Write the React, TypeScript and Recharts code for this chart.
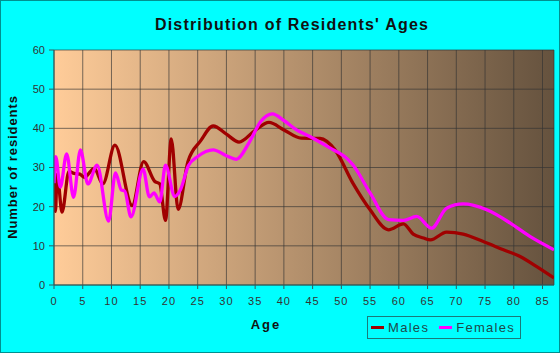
import React from "react";
import { LineChart, Line, XAxis, YAxis, CartesianGrid } from "recharts";

const chartTitle = "Distribution of Residents' Ages";
const xLabel = "Age";
const yLabel = "Number of residents";
const seriesNames = ["Males", "Females"];

const maleAges = [0, 0.25, 0.55, 1.4, 2.6, 3.5, 4.5, 5.3, 7, 8.5, 10.6, 13.6, 15.6, 17.5, 18.4, 19.4, 20.4, 21.6, 23.3, 25.5, 27.7, 30, 32.2, 35, 37.4, 40, 43, 46.3, 48.9, 52, 55, 58.2, 60.8, 62.5, 64.3, 65.5, 68.3, 71.2, 74.7, 78.2, 81.1, 84, 87];
const maleValues = [28.5, 18.8, 28.3, 18.6, 29, 28.5, 28.3, 27.5, 29.8, 25.8, 35.7, 20.3, 31.5, 26.5, 25.8, 16.5, 37.3, 19.3, 31.5, 36.8, 40.6, 38.5, 36.5, 39.5, 41.5, 39.6, 37.5, 37.4, 34.5, 26, 19.2, 14.1, 15.6, 13, 12, 11.5, 13.5, 13, 11.1, 9, 7.3, 4.7, 1.8];

const femaleAges = [0, 0.3, 1.1, 2.2, 3.4, 4.6, 5.9, 7.5, 9.5, 10.7, 11.7, 12.3, 13.4, 15.5, 16.6, 17.4, 18.4, 19.4, 21, 22, 23.4, 25, 27.7, 30, 31.7, 34, 36, 38, 40, 42.2, 44.5, 48, 50.9, 52, 55, 58.2, 60.8, 63.1, 65.7, 68.3, 71.2, 75.3, 79.4, 82.8, 87];
const femaleValues = [26, 32.8, 25, 33.5, 22.4, 34.5, 25.8, 30.6, 16.3, 28.6, 24.3, 24, 17.4, 29.6, 22.5, 23.5, 21.2, 30.6, 22.6, 24.3, 30.5, 32.8, 34.5, 33, 32.1, 36.5, 41.8, 43.7, 42, 39.6, 37.9, 35, 32.4, 30.7, 23.5, 16.7, 16.5, 17.5, 14.5, 19.6, 20.7, 19.2, 15.8, 12.4, 9];

const xTicks = [0, 5, 10, 15, 20, 25, 30, 35, 40, 45, 50, 55, 60, 65, 70, 75, 80, 85];
const xMinorTicks = Array.from({ length: 88 }, (_, i) => i);
const yTicks = [0, 10, 20, 30, 40, 50, 60];

const maleData = maleAges.map((age, i) => ({ age, value: maleValues[i] }));
const femaleData = femaleAges.map((age, i) => ({ age, value: femaleValues[i] }));

const MALE_COLOR = "#A00000";
const FEMALE_COLOR = "#FF00FF";
const AXIS_COLOR = "#2F5F5F";
const FONT = "Arial, 'Liberation Sans', Helvetica, sans-serif";

export default function App() {
  return (
    <div
      style={{
        position: "relative",
        width: 560,
        height: 353,
        background: "#00FFFF",
        fontFamily: FONT,
        overflow: "hidden",
      }}
    >
      <style>{`body{margin:0}`}</style>
      <div style={{ position: "absolute", left: 0, top: 0 }}>
        <LineChart
          width={560}
          height={353}
          margin={{ top: 50, right: 6, bottom: 38, left: 0 }}
        >
          <defs>
            <linearGradient id="plotBg" x1="0" y1="0" x2="1" y2="0">
              <stop offset="0" stopColor="#FFCC99" />
              <stop offset="1" stopColor="#65523E" />
            </linearGradient>
          </defs>
          <CartesianGrid
            fill="url(#plotBg)"
            fillOpacity={1}
            stroke="#333333"
            strokeOpacity={0.65}
            strokeWidth={1}
          />
          <XAxis
            xAxisId="minor"
            type="number"
            dataKey="age"
            domain={[0, 87]}
            ticks={xMinorTicks}
            interval={0}
            tickFormatter={() => ""}
            height={0}
            tickSize={4}
            axisLine={{ stroke: AXIS_COLOR }}
            tickLine={{ stroke: AXIS_COLOR }}
            allowDataOverflow
          />
          <XAxis
            type="number"
            dataKey="age"
            domain={[0, 87]}
            ticks={xTicks}
            interval={0}
            height={30}
            tickSize={4}
            tickMargin={8}
            axisLine={{ stroke: AXIS_COLOR }}
            tickLine={{ stroke: AXIS_COLOR }}
            tick={{ fill: "#333333", fontSize: 11, fontFamily: FONT, letterSpacing: 1 }}
            allowDataOverflow
          />
          <YAxis
            type="number"
            domain={[0, 60]}
            ticks={yTicks}
            interval={0}
            width={54}
            tickSize={5}
            tickMargin={4}
            axisLine={{ stroke: AXIS_COLOR }}
            tickLine={{ stroke: AXIS_COLOR }}
            tick={{ fill: "#333333", fontSize: 11, fontFamily: FONT }}
            allowDataOverflow
          />
          <Line
            data={maleData}
            dataKey="value"
            name={seriesNames[0]}
            type="monotone"
            stroke={MALE_COLOR}
            strokeWidth={3.3}
            dot={false}
            isAnimationActive={false}
          />
          <Line
            data={femaleData}
            dataKey="value"
            name={seriesNames[1]}
            type="monotone"
            stroke={FEMALE_COLOR}
            strokeWidth={3.3}
            dot={false}
            isAnimationActive={false}
          />
        </LineChart>
      </div>

      <div
        style={{
          position: "absolute",
          left: 0,
          width: 584,
          top: 16,
          textAlign: "center",
          fontSize: 16,
          fontWeight: "bold",
          letterSpacing: 1.2,
          color: "#111",
          whiteSpace: "nowrap",
        }}
      >
        {chartTitle}
      </div>

      <div
        style={{
          position: "absolute",
          left: 12,
          top: 167,
          transform: "translate(-50%, -50%) rotate(-90deg)",
          fontSize: 13,
          fontWeight: "bold",
          letterSpacing: 0.9,
          color: "#111",
          whiteSpace: "nowrap",
        }}
      >
        {yLabel}
      </div>

      <div
        style={{
          position: "absolute",
          left: 266,
          top: 324,
          transform: "translate(-50%, -50%)",
          fontSize: 13,
          fontWeight: "bold",
          letterSpacing: 2,
          color: "#111",
          whiteSpace: "nowrap",
        }}
      >
        {xLabel}
      </div>

      <div
        style={{
          position: "absolute",
          left: 367,
          top: 316,
          width: 154,
          height: 23,
          boxSizing: "border-box",
          border: "1px solid #1A7A7A",
          display: "flex",
          alignItems: "center",
          fontSize: 13,
          letterSpacing: 1.3,
          color: "#1E4A4A",
          whiteSpace: "nowrap",
        }}
      >
        <span style={{ display: "inline-block", width: 13, height: 3, background: MALE_COLOR, marginLeft: 3, marginRight: 4 }} />
        <span>{seriesNames[0]}</span>
        <span style={{ display: "inline-block", width: 13, height: 3, background: FEMALE_COLOR, marginLeft: 10, marginRight: 4 }} />
        <span>{seriesNames[1]}</span>
      </div>

      <div
        style={{
          position: "absolute",
          left: 0,
          top: 0,
          width: 560,
          height: 353,
          boxSizing: "border-box",
          border: "1px solid #009090",
          pointerEvents: "none",
        }}
      />
    </div>
  );
}
